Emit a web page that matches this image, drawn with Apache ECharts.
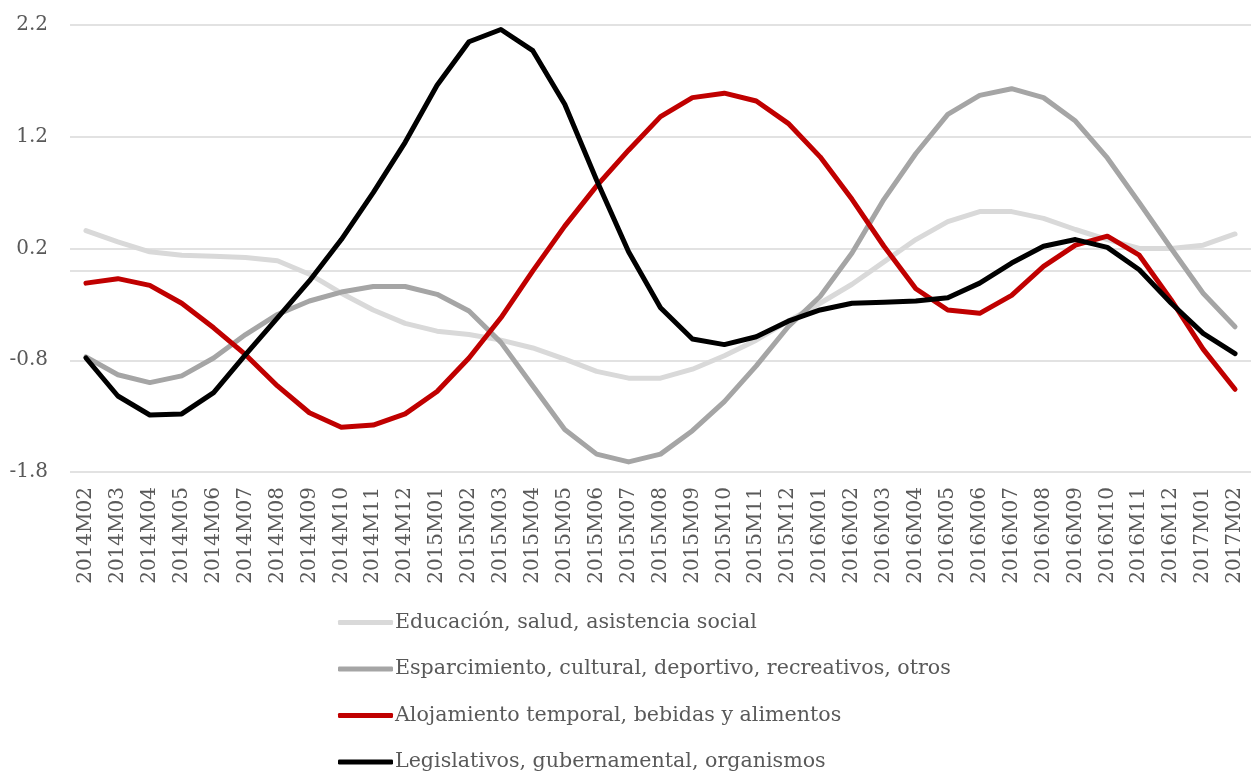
<!DOCTYPE html>
<html>
<head>
<meta charset="utf-8">
<script src="https://cdn.jsdelivr.net/npm/echarts@6/dist/echarts.min.js"></script>
<style>
html,body{margin:0;padding:0;background:#fff;}
#chart{width:1251px;height:771px;}
</style>
</head>
<body>
<div id="chart"></div>
<script>
const categories = ["2014M02","2014M03","2014M04","2014M05","2014M06","2014M07","2014M08","2014M09","2014M10","2014M11","2014M12",
"2015M01","2015M02","2015M03","2015M04","2015M05","2015M06","2015M07","2015M08","2015M09","2015M10","2015M11","2015M12",
"2016M01","2016M02","2016M03","2016M04","2016M05","2016M06","2016M07","2016M08","2016M09","2016M10","2016M11","2016M12",
"2017M01","2017M02"];

const educacion = [0.36,0.26,0.17,0.14,0.13,0.12,0.09,-0.03,-0.20,-0.35,-0.47,
-0.54,-0.57,-0.62,-0.69,-0.79,-0.90,-0.96,-0.96,-0.88,-0.76,-0.62,-0.45,
-0.29,-0.12,0.08,0.28,0.44,0.53,0.53,0.47,0.37,0.28,0.20,0.20,0.23,0.33];

const esparcimiento = [-0.77,-0.93,-1.00,-0.94,-0.78,-0.57,-0.39,-0.27,-0.19,-0.14,-0.14,
-0.21,-0.36,-0.64,-1.03,-1.42,-1.64,-1.71,-1.64,-1.43,-1.17,-0.85,-0.50,
-0.23,0.16,0.64,1.05,1.40,1.57,1.63,1.55,1.34,1.01,0.61,0.20,-0.20,-0.50];

const alojamiento = [-0.11,-0.07,-0.13,-0.29,-0.51,-0.75,-1.03,-1.27,-1.40,-1.38,-1.28,
-1.08,-0.78,-0.42,0.00,0.40,0.76,1.08,1.38,1.55,1.59,1.52,1.32,
1.02,0.64,0.22,-0.16,-0.35,-0.38,-0.22,0.04,0.23,0.31,0.14,-0.26,-0.70,-1.06];

const legislativos = [-0.78,-1.12,-1.29,-1.28,-1.09,-0.75,-0.42,-0.09,0.28,0.70,1.15,
1.66,2.05,2.16,1.97,1.49,0.81,0.17,-0.33,-0.61,-0.66,-0.59,-0.45,
-0.35,-0.29,-0.28,-0.27,-0.24,-0.11,0.07,0.22,0.28,0.21,0.01,-0.29,-0.56,-0.74];

const seriesNames = ["Educación, salud, asistencia social",
"Esparcimiento, cultural, deportivo, recreativos, otros",
"Alojamiento temporal, bebidas y alimentos",
"Legislativos, gubernamental, organismos"];
const seriesColors = ["#d9d9d9","#a5a5a5","#c00000","#000000"];
const seriesData = [educacion, esparcimiento, alojamiento, legislativos];

const yMin = -1.8, yMax = 2.2, yStep = 1;

const FONT = "DejaVu Serif";
const TXT = "#595959";

const chart = echarts.init(document.getElementById('chart'), null, {renderer:'canvas'});

const series = seriesData.map((d, i) => {
  const s = {
    name: seriesNames[i],
    type: 'line',
    data: d,
    symbol: 'none',
    smooth: false,
    lineStyle: {color: seriesColors[i], width: 5, cap: 'round', join: 'round'},
    itemStyle: {color: seriesColors[i]},
    z: 3 + i
  };
  if (i === 0) {
    s.markLine = {
      silent: true,
      symbol: 'none',
      label: {show: false},
      lineStyle: {color: '#d9d9d9', width: 1.5, type: 'solid'},
      data: [{yAxis: 0}],
      z: 1
    };
  }
  return s;
});

chart.setOption({
  animation: false,
  backgroundColor: '#ffffff',
  grid: {left: 70, top: 25, width: 1187, height: 447, containLabel: false},
  xAxis: {
    type: 'category',
    data: categories,
    boundaryGap: true,
    axisLine: {show: false},
    axisTick: {show: false},
    splitLine: {show: false},
    axisLabel: {
      interval: 0,
      rotate: 90,
      margin: 15,
      color: TXT,
      fontFamily: FONT,
      fontSize: 20
    }
  },
  yAxis: {
    type: 'value',
    min: yMin,
    max: yMax,
    interval: yStep,
    axisLine: {show: false},
    axisTick: {show: false},
    splitLine: {lineStyle: {color: '#d9d9d9', width: 1.5}},
    axisLabel: {
      margin: 22,
      color: TXT,
      fontFamily: FONT,
      fontSize: 20,
      formatter: v => v.toFixed(1)
    }
  },
  legend: {
    orient: 'vertical',
    left: 333,
    top: 607,
    height: 300,
    itemGap: 25.5,
    itemWidth: 55,
    itemHeight: 5,
    icon: 'roundRect',
    textStyle: {color: TXT, fontFamily: FONT, fontSize: 20.6, padding: [0,0,0,-3]},
    data: seriesNames
  },
  series: series
});
</script>
</body>
</html>
